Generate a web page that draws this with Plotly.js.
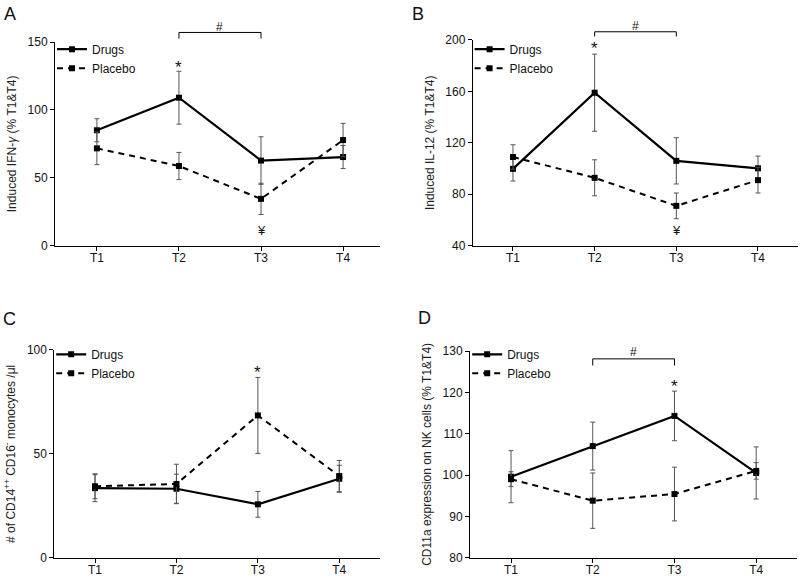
<!DOCTYPE html>
<html>
<head>
<meta charset="utf-8">
<script src="https://cdn.plot.ly/plotly-3.0.1.min.js"></script>
<style>html,body{margin:0;padding:0;background:#fff;}#chart{width:800px;height:578px;}</style>
</head>
<body>
<div id="chart"></div>
<script>
// ---- data ----
const timepoints = ['T1', 'T2', 'T3', 'T4'];
const tIndex = [1, 2, 3, 4];

// Panel A: Induced IFN-gamma (% T1&T4)
const ifnDrugs = [85, 109, 62.7, 65.3];
const ifnDrugsErr = [8.5, 19.5, 17.5, 8.5];
const ifnPlacebo = [71.7, 58.7, 34.5, 77.8];
const ifnPlaceboErr = [12, 10, 11.5, 12.3];

// Panel B: Induced IL-12 (% T1&T4)
const il12Drugs = [99.8, 159, 106, 100.2];
const il12DrugsErr = [9.5, 30, 18, 9.5];
const il12Placebo = [109, 92.8, 71, 91];
const il12PlaceboErr = [9.5, 14, 10, 10];

// Panel C: # of CD14++ CD16- monocytes /ul
const monoDrugs = [33.5, 33.2, 25.7, 38];
const monoDrugsErr = [6.5, 7, 6.2, 6.5];
const monoPlacebo = [34.4, 35.5, 68.5, 39.3];
const monoPlaceboErr = [6, 9.5, 18.3, 7.5];

// Panel D: CD11a expression on NK cells (% T1&T4)
const cd11Drugs = [99.6, 107, 114.3, 100.5];
const cd11DrugsErr = [6.3, 5.8, 6, 6.3];
const cd11Placebo = [99, 93.8, 95.4, 101];
const cd11PlaceboErr = [1.8, 6.7, 6.5, 2];

// ---- styling helpers ----
const FONT = 'Liberation Sans, Arial, sans-serif';
function series(name, y, err, xa, ya, dashed, legendId) {
  return {
    type: 'scatter', mode: 'lines+markers', name: name,
    x: tIndex, y: y, xaxis: xa, yaxis: ya, legend: legendId,
    line: {color: '#000', width: dashed ? 2 : 2.2, dash: dashed ? '6px,5px' : 'solid'},
    marker: {symbol: 'square', size: 6, color: '#000'},
    error_y: {type: 'data', array: err, visible: true, color: '#555', thickness: 1, width: 2.5},
    cliponaxis: false
  };
}

const traces = [
  series('Drugs', ifnDrugs, ifnDrugsErr, 'x', 'y', false, 'legend'),
  series('Placebo', ifnPlacebo, ifnPlaceboErr, 'x', 'y', true, 'legend'),
  series('Drugs', il12Drugs, il12DrugsErr, 'x2', 'y2', false, 'legend2'),
  series('Placebo', il12Placebo, il12PlaceboErr, 'x2', 'y2', true, 'legend2'),
  series('Drugs', monoDrugs, monoDrugsErr, 'x3', 'y3', false, 'legend3'),
  series('Placebo', monoPlacebo, monoPlaceboErr, 'x3', 'y3', true, 'legend3'),
  series('Drugs', cd11Drugs, cd11DrugsErr, 'x4', 'y4', false, 'legend4'),
  series('Placebo', cd11Placebo, cd11PlaceboErr, 'x4', 'y4', true, 'legend4')
];

function xax(domain, range, anchor) {
  return {
    domain: domain, range: range, anchor: anchor,
    tickvals: tIndex, ticktext: timepoints,
    showline: true, linecolor: '#000', linewidth: 1,
    ticks: 'outside', ticklen: 4, tickcolor: '#000',
    ticklabelstandoff: -3,
    showgrid: false, zeroline: false,
    tickfont: {family: FONT, size: 12, color: '#111'}
  };
}
function yax(domain, range, tickvals, anchor, title) {
  return {
    domain: domain, range: range, anchor: anchor, tickvals: tickvals,
    showline: true, linecolor: '#000', linewidth: 1,
    ticks: 'outside', ticklen: 4, tickcolor: '#000',
    showgrid: false, zeroline: false,
    tickfont: {family: FONT, size: 12, color: '#111'},
    title: {text: title, font: {family: FONT, size: 12, color: '#222'}, standoff: 8}
  };
}
function legendAt(x, y) {
  return {
    x: x, y: y, xanchor: 'left', yanchor: 'top',
    bgcolor: 'rgba(0,0,0,0)', borderwidth: 0,
    font: {family: FONT, size: 12, color: '#111'},
    itemwidth: 30, tracegroupgap: 0
  };
}
function ann(text, x, y, xref, yref, size) {
  return {text: text, x: x, y: y, xref: xref, yref: yref, showarrow: false,
          xanchor: 'center', yanchor: 'middle',
          font: {family: FONT, size: size || 13, color: '#111'}};
}
function bracket(xref, yref, yTop, yBottom) {
  const s = {type: 'line', xref: xref, yref: yref, line: {color: '#000', width: 1}};
  return [
    Object.assign({}, s, {x0: tIndex[1], x1: tIndex[2], y0: yTop, y1: yTop}),
    Object.assign({}, s, {x0: tIndex[1], x1: tIndex[1], y0: yTop, y1: yBottom}),
    Object.assign({}, s, {x0: tIndex[2], x1: tIndex[2], y0: yTop, y1: yBottom})
  ];
}

const layout = {
  width: 800, height: 578,
  margin: {l: 0, r: 0, t: 0, b: 0},
  paper_bgcolor: '#fff', plot_bgcolor: '#fff',
  font: {family: FONT, size: 12, color: '#111'},
  xaxis: xax([0.0688, 0.475], [0.49, 4.45], 'y'),
  yaxis: yax([0.5749, 0.9273], [0, 150], [0, 50, 100, 150], 'x', 'Induced IFN-<i>γ</i> (% T1&amp;T4)'),
  xaxis2: xax([0.5909, 0.9975], [0.507, 4.49], 'y2'),
  yaxis2: yax([0.5749, 0.9308], [40, 200], [40, 80, 120, 160, 200], 'x2', 'Induced IL-12 (% T1&amp;T4)'),
  xaxis3: xax([0.0679, 0.475], [0.5, 4.5], 'y3'),
  yaxis3: yax([0.0351, 0.3945], [0, 100], [0, 50, 100], 'x3', '# of CD14<sup>++</sup> CD16<sup>-</sup> monocytes /μl'),
  xaxis4: xax([0.5875, 0.9963], [0.498, 4.5], 'y4'),
  yaxis4: yax([0.0351, 0.3927], [80, 130], [80, 90, 100, 110, 120, 130], 'x4', 'CD11a expression on NK cells (% T1&amp;T4)'),
  legend: legendAt(0.065, 0.94),
  legend2: legendAt(0.587, 0.94),
  legend3: legendAt(0.064, 0.412),
  legend4: legendAt(0.584, 0.412),
  showlegend: true,
  annotations: [
    ann('A', 0.012, 0.976, 'paper', 'paper', 18),
    ann('B', 0.523, 0.976, 'paper', 'paper', 18),
    ann('C', 0.012, 0.448, 'paper', 'paper', 18),
    ann('D', 0.531, 0.449, 'paper', 'paper', 18),
    ann('*', tIndex[1], 131, 'x', 'y', 17),
    ann('¥', tIndex[2], 11.5, 'x', 'y', 13),
    ann('#', 2.5, 1.074, 'x', 'y domain', 12),
    ann('*', tIndex[1], 193, 'x2', 'y2', 17),
    ann('¥', tIndex[2], 52, 'x2', 'y2', 13),
    ann('#', 2.5, 1.068, 'x2', 'y2 domain', 12),
    ann('*', tIndex[2], 89, 'x3', 'y3', 17),
    ann('*', tIndex[2], 121.5, 'x4', 'y4', 17),
    ann('#', 2.5, 129.8, 'x4', 'y4', 12)
  ],
  shapes: [].concat(
    bracket('x', 'y domain', 1.047, 1.017),
    bracket('x2', 'y2 domain', 1.04, 1.017),
    bracket('x4', 'y4 domain', 0.962, 0.93)
  )
};

Plotly.newPlot('chart', traces, layout, {displayModeBar: false, staticPlot: true});
</script>
</body>
</html>
